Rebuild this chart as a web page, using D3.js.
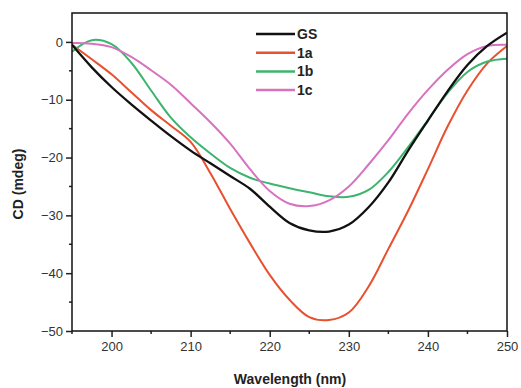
<!DOCTYPE html>
<html>
<head>
<meta charset="utf-8">
<script src="https://cdn.jsdelivr.net/npm/d3@7"></script>
<style>
  body { margin: 0; background: #fff; }
  svg { font-family: "Liberation Sans", Arial, sans-serif; }
</style>
</head>
<body>
<script>
'use strict';

var wavelength = [195, 197.5, 200, 202.5, 205, 207.5, 210, 212.5, 215, 217.5, 220, 222.5,
                  225, 227.5, 230, 232.5, 235, 237.5, 240, 242.5, 245, 247.5, 250];

var seriesNames = ["GS", "1a", "1b", "1c"];
var seriesColors = ["#111111", "#e8502f", "#3cb46e", "#d673c0"];

var gsValues = [-0.5, -4.4, -7.8, -10.8, -13.6, -16.3, -18.8, -21.0, -23.2, -25.4, -28.5, -31.3,
                -32.6, -32.8, -31.6, -28.6, -24.3, -18.8, -13.6, -8.5, -4.0, -0.7, 1.6];
var a1Values = [-0.5, -3.0, -5.6, -8.7, -11.8, -14.5, -17.3, -22.7, -28.9, -34.8, -40.3, -44.6,
                -47.6, -48.1, -46.8, -42.3, -35.8, -29.2, -22.0, -14.6, -8.4, -3.7, -0.7];
var b1Values = [-1.7, 0.3, -0.4, -3.6, -8.4, -13.1, -16.5, -19.3, -21.8, -23.5, -24.5, -25.3,
                -26.0, -26.7, -26.8, -25.6, -22.5, -18.2, -13.5, -8.8, -5.2, -3.4, -2.9];
var c1Values = [-0.2, -0.3, -0.9, -2.6, -4.9, -7.4, -10.6, -13.9, -17.6, -22.0, -25.8, -28.0,
                -28.4, -27.4, -25.0, -21.2, -17.0, -12.4, -8.3, -4.8, -2.1, -0.7, -0.5];

var xTicks = [200, 210, 220, 230, 240, 250];
var yTicks = [0, -10, -20, -30, -40, -50];

var width = 521,
    height = 388;

var margin = { left: 72, top: 13, right: 14, bottom: 57 };

var svg = d3.select("body")
    .append("svg")
    .attr("width", width)
    .attr("height", height);

var x = d3.scaleLinear()
    .domain([195, 250])
    .range([margin.left, width - margin.right]);

var y = d3.scaleLinear()
    .domain([-50, 5])
    .range([height - margin.bottom, margin.top]);

// minor ticks (every 5)
var xMinor = d3.range(195, 251, 5).filter(function(d) { return d % 10 !== 0; });
var yMinor = d3.range(-45, 5, 10);

var ticksG = svg.append("g").attr("stroke", "#222").attr("stroke-width", 1.5);

ticksG.selectAll(".xminor")
    .data(xMinor)
    .enter()
    .append("line")
    .attr("x1", function(d) { return x(d); })
    .attr("x2", function(d) { return x(d); })
    .attr("y1", y(-50))
    .attr("y2", y(-50) + 3);

ticksG.selectAll(".yminor")
    .data(yMinor)
    .enter()
    .append("line")
    .attr("x1", x(195))
    .attr("x2", x(195) - 3)
    .attr("y1", function(d) { return y(d); })
    .attr("y2", function(d) { return y(d); });

// axes
var xAxis = svg.append("g")
    .attr("transform", "translate(0," + y(-50) + ")")
    .call(d3.axisBottom(x).tickValues(xTicks).tickSize(6).tickSizeOuter(0).tickPadding(5));

var yAxis = svg.append("g")
    .attr("transform", "translate(" + x(195) + ",0)")
    .call(d3.axisLeft(y).tickValues(yTicks).tickSize(6).tickSizeOuter(0).tickPadding(3));

[xAxis, yAxis].forEach(function(ax) {
    ax.select(".domain").remove();
    ax.selectAll(".tick line").attr("stroke", "#222").attr("stroke-width", 1.5);
    ax.selectAll(".tick text")
        .attr("fill", "#333")
        .style("font-size", "13px")
        .style("font-family", "'Liberation Sans', Arial, sans-serif");
});

// curves
var clipId = "plotclip";
svg.append("clipPath").attr("id", clipId)
    .append("rect")
    .attr("x", x(195))
    .attr("y", y(5))
    .attr("width", x(250) - x(195))
    .attr("height", y(-50) - y(5));

var allValues = [gsValues, a1Values, b1Values, c1Values];

var line = d3.line()
    .x(function(d) { return x(d[0]); })
    .y(function(d) { return y(d[1]); })
    .curve(d3.curveCatmullRom.alpha(0.5));

var curves = svg.append("g").attr("clip-path", "url(#" + clipId + ")");

// draw in order so that black ends on top like the original
[1, 2, 3, 0].forEach(function(i) {
    curves.append("path")
        .datum(wavelength.map(function(w, j) { return [w, allValues[i][j]]; }))
        .attr("fill", "none")
        .attr("stroke", seriesColors[i])
        .attr("stroke-width", i === 0 ? 2.3 : 2)
        .attr("d", line);
});

// frame
svg.append("rect")
    .attr("x", x(195))
    .attr("y", y(5))
    .attr("width", x(250) - x(195))
    .attr("height", y(-50) - y(5))
    .attr("fill", "none")
    .attr("stroke", "#111")
    .attr("stroke-width", 1.5);

// legend
var legend = svg.append("g").attr("transform", "translate(256,34)");
legend.selectAll("g")
    .data(seriesNames)
    .enter()
    .append("g")
    .attr("transform", function(d, i) { return "translate(0," + (i * 18.7) + ")"; })
    .each(function(d, i) {
        var g = d3.select(this);
        g.append("line")
            .attr("x1", 0).attr("x2", 39)
            .attr("y1", 0).attr("y2", 0)
            .attr("stroke", seriesColors[i])
            .attr("stroke-width", 2.5);
        g.append("text")
            .attr("x", 41)
            .attr("y", 5)
            .attr("fill", "#222")
            .style("font-size", "14px")
            .style("font-weight", "bold")
            .text(d);
    });

// axis titles
svg.append("text")
    .attr("x", 290)
    .attr("y", 384)
    .attr("text-anchor", "middle")
    .attr("fill", "#222")
    .style("font-size", "14px")
    .style("font-weight", "bold")
    .text("Wavelength (nm)");

svg.append("text")
    .attr("transform", "translate(23,184) rotate(-90)")
    .attr("text-anchor", "middle")
    .attr("fill", "#222")
    .style("font-size", "14px")
    .style("font-weight", "bold")
    .text("CD (mdeg)");
</script>
</body>
</html>
